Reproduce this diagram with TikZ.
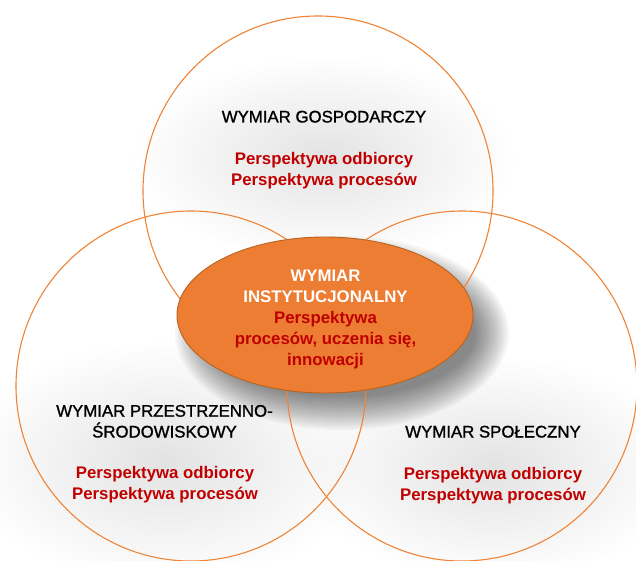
\documentclass[tikz,border=0pt]{standalone}
\usepackage{fontspec}
\setmainfont{Liberation Sans}
\newfontfamily\semibold[FakeBold=1.2]{Liberation Sans}
\usetikzlibrary{shapes.geometric,fadings}
\definecolor{ringor}{HTML}{EF8436}
\definecolor{ellfill}{HTML}{EC7D33}
\definecolor{elledge}{HTML}{B8641F}
\definecolor{darkred}{HTML}{C00000}
\tikzfading[name=softblob, inner color=transparent!0, outer color=transparent!100]
\tikzset{
  ring/.style={draw=ringor, line width=1.1pt},
  glow/.style={fill=black!11, path fading=softblob},
  ttl/.style={anchor=base, inner sep=0pt, text=black, font=\fontsize{16.8}{20}\semibold\selectfont},
  persp/.style={anchor=base, inner sep=0pt, text=darkred, font=\fontsize{16.8}{20}\selectfont\bfseries},
  inst/.style={anchor=base, inner sep=0pt, text=white, font=\fontsize{16.8}{20}\selectfont\bfseries},
}
\begin{document}
\begin{tikzpicture}[x=1pt,y=-1pt]
\useasboundingbox (0,0) rectangle (636,561);
\fill[white] (0,0) rectangle (636,561);
% soft glows behind the texts
\fill[glow] (324,158) ellipse (190 and 100);
\fill[glow] (165,462) ellipse (200 and 120);
\fill[glow] (493,468) ellipse (190 and 110);
% shadow of the central ellipse
\foreach \i in {0,...,15}{
  \fill[black, opacity=0.035] (342,333) ellipse ({134+2.2*\i} and {64+2.2*\i});
}
% three rings
\draw[ring] (318,191) circle (175);
\draw[ring] (191,386) circle (175);
\draw[ring] (462,386) circle (175);
% central ellipse
\node[draw=elledge, fill=ellfill, line width=0.9pt, ellipse, minimum width=296pt, minimum height=156pt, inner sep=0pt] (inst) at (325,315) {};
% top texts
\node[ttl] (t1) at (324,122.5) {WYMIAR GOSPODARCZY};
\node[persp] (t2) at (324,164.5) {Perspektywa odbiorcy};
\node[persp] (t3) at (324,185.5) {Perspektywa procesów};
% ellipse texts
\node[inst] (e1) at (325.5,281.7) {WYMIAR};
\node[inst] (e2) at (325.5,302) {INSTYTUCJONALNY};
\node[persp] (e3) at (325.5,323) {Perspektywa};
\node[persp] (e4) at (325.5,344) {procesów, uczenia się,};
\node[persp] (e5) at (325.5,365) {innowacji};
% left texts
\node[ttl] (l1) at (164.5,416.7) {WYMIAR PRZESTRZENNO-};
\node[ttl] (l2) at (164.5,437.5) {ŚRODOWISKOWY};
\node[persp] (l3) at (165,478) {Perspektywa odbiorcy};
\node[persp] (l4) at (165,499) {Perspektywa procesów};
% right texts
\node[ttl] (r1) at (493,437.5) {WYMIAR SPOŁECZNY};
\node[persp] (r2) at (493,479.5) {Perspektywa odbiorcy};
\node[persp] (r3) at (493,500.5) {Perspektywa procesów};
\end{tikzpicture}
\end{document}
